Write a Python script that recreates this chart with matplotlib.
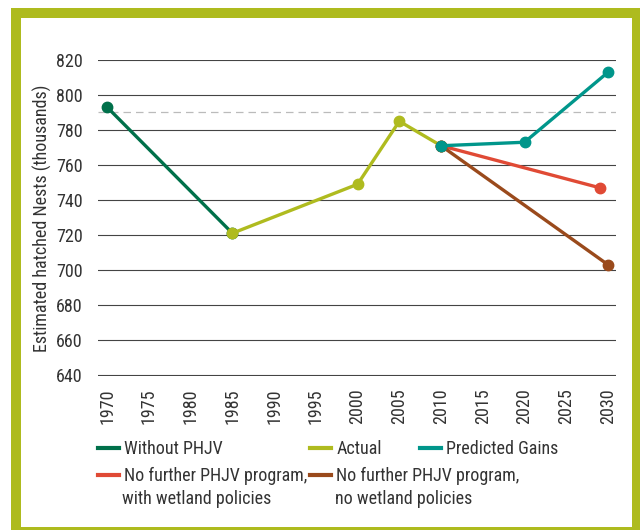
import matplotlib
matplotlib.use('Agg')
import matplotlib.pyplot as plt
from matplotlib.lines import Line2D
from matplotlib.patches import Rectangle

## data (thousands of hatched nests)
years_without = [1970, 1985]
vals_without = [793, 721]
years_actual = [1985, 2000, 2005, 2010]
vals_actual = [721, 749, 785, 771]
years_gains = [2010, 2020, 2030]
vals_gains = [771, 773, 813]
years_wet = [2010, 2029]
vals_wet = [771, 747]
years_nowet = [2010, 2030]
vals_nowet = [771, 703]
ref_level = 790

xticks = list(range(1970, 2031, 5))
yticks = list(range(640, 821, 20))

colors = {'Without PHJV': '#00704a', 'Actual': '#afbb1f', 'Predicted Gains': '#00968b',
          'wet': '#e04a35', 'nowet': '#9a4a1c'}
frame_col = '#aebb1e'
txt_col = '#333333'
fs = 13

plt.rcParams['font.family'] = ['Liberation Sans Narrow', 'Roboto Condensed', 'DejaVu Sans']
plt.rcParams['font.stretch'] = 'condensed'

W, H = 640, 530
fig = plt.figure(figsize=(6.4, 5.3), dpi=100)

# frame
fig.patches.append(Rectangle((11/W, 0), (W-11)/W, (H-8)/H, transform=fig.transFigure,
                             facecolor=frame_col, edgecolor='none', zorder=-10))
fig.patches.append(Rectangle((21/W, 3/H), (632-21)/W, (527-18)/H, transform=fig.transFigure,
                             facecolor='white', edgecolor='none', zorder=-9))

ax = fig.add_axes([98/W, 1-376/H, (616-98)/W, (376-60)/H])
ax.patch.set_alpha(0)
for s in ax.spines.values():
    s.set_visible(False)

ax.set_ylim(639.4, 820)
ax.set_xlim(1968.9, 2030.96)
ax.set_yticks(yticks)
ax.set_xticks(xticks)
ax.set_xticklabels([str(y) for y in xticks], rotation=90)
ax.tick_params(axis='both', length=0, labelsize=fs, colors=txt_col)
ax.tick_params(axis='y', pad=11)
ax.tick_params(axis='x', pad=9)
ax.yaxis.grid(True, color='#444444', lw=0.8)
ax.set_axisbelow(True)
ax.axhline(ref_level, color='#bbbbbb', lw=0.9, ls=(0, (6, 4)), zorder=1)

ax.set_ylabel('Estimated hatched Nests (thousands)', fontsize=fs, color=txt_col)
ax.yaxis.set_label_coords(-0.088, 0.5)

kw = dict(lw=2.4, marker='o', ms=7.5, solid_capstyle='round', zorder=3)
ax.plot(years_without, vals_without, color=colors['Without PHJV'], **kw)
ax.plot(years_actual, vals_actual, color=colors['Actual'], **kw)
ax.plot(years_wet, vals_wet, color=colors['wet'], **kw)
ax.plot(years_nowet, vals_nowet, color=colors['nowet'], **kw)
ax.plot(years_gains, vals_gains, color=colors['Predicted Gains'], **kw)

# legend, one entry at a time to place them as in the original
entries = [
    ('Without PHJV', colors['Without PHJV'], 98, 440),
    ('Actual', colors['Actual'], 310, 440),
    ('Predicted Gains', colors['Predicted Gains'], 420, 440),
    ('No further PHJV program,', colors['wet'], 98, 467),
    ('No further PHJV program,', colors['nowet'], 310, 467),
]
for lab, c, x, y in entries:
    fig.legend(handles=[Line2D([], [], color=c, lw=3)], labels=[lab],
               loc='upper left', bbox_to_anchor=(x/W, 1-y/H), frameon=False,
               borderpad=0, borderaxespad=0, handlelength=1.15, handletextpad=0.3,
               fontsize=fs, labelcolor=txt_col)
fig.text(122/W, 1-499/H, 'with wetland policies', fontsize=fs, color=txt_col, va='center')
fig.text(335/W, 1-499/H, 'no wetland policies', fontsize=fs, color=txt_col, va='center')

fig.savefig('out.png', dpi=100)
